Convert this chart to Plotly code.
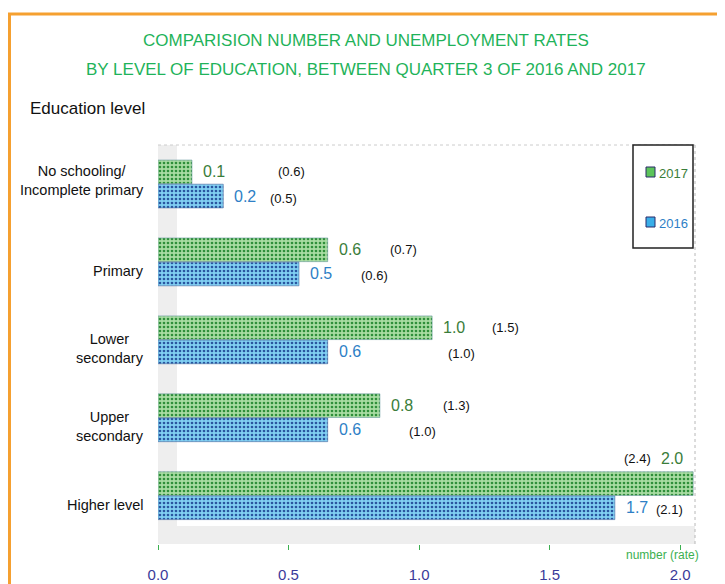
import plotly.graph_objects as go

# ---- data ----
categories = ["No schooling/<br>Incomplete primary", "Primary", "Lower<br>secondary",
              "Upper<br>secondary", "Higher level"]
num_2017 = [0.13, 0.65, 1.05, 0.85, 2.05]
num_2016 = [0.25, 0.54, 0.65, 0.65, 1.75]
num_label_2017 = ["0.1", "0.6", "1.0", "0.8", "2.0"]
num_label_2016 = ["0.2", "0.5", "0.6", "0.6", "1.7"]
rate_label_2017 = ["(0.6)", "(0.7)", "(1.5)", "(1.3)", "(2.4)"]
rate_label_2016 = ["(0.5)", "(0.6)", "(1.0)", "(1.0)", "(2.1)"]
series_names = ["2017", "2016"]
xticks = [0.0, 0.5, 1.0, 1.5, 2.0]

# ---- layout constants (page pixels) ----
W, H = 725, 584
PAGE = 8                      # default body margin of the html page
L, R, T, B = 158, 695, 145, 544
xmax = 2.057
ymin, ymax = -0.5, 4.62
FONT = "Liberation Sans, Arial, sans-serif"
GREEN_T = "#3a7d3a"
BLUE_T = "#2e7fc6"
GREEN_SW = "#5cc45a"
BLUE_SW = "#3aaee8"

def px(x):
    return (x - L) / (R - L)

def py(y):
    return (B - y) / (B - T)

idx = list(range(len(categories)))
fig = go.Figure()
fig.add_trace(go.Bar(
    y=idx, x=num_2017, orientation="h", name=series_names[0],
    marker=dict(color="#93d48f", line=dict(color="#6a9aa0", width=0.6),
                pattern=dict(shape=".", fgcolor="#2f8f3a", bgcolor="#a8dca2", size=4, solidity=0.35)),
    hoverinfo="skip"))
fig.add_trace(go.Bar(
    y=idx, x=num_2016, orientation="h", name=series_names[1],
    marker=dict(color="#6ec6f0", line=dict(color="#4a6aa0", width=0.6),
                pattern=dict(shape=".", fgcolor="#2a56a0", bgcolor="#80cff2", size=4, solidity=0.35)),
    hoverinfo="skip"))

off = 0.155
rate_x_2017 = [0.513, 0.939, 1.333, 1.142, 1.835]
rate_x_2016 = [0.479, 0.828, 1.161, 1.015, 1.958]
above_x_2017 = 1.969          # label placed above the longest bar
anns = []
for i in idx:
    above = num_2017[i] > 1.95
    y17 = i - off
    ys17 = 25 if above else 0
    if above:
        anns.append(dict(x=above_x_2017, y=y17, xref="x", yref="y", text=num_label_2017[i],
                         xanchor="center", yanchor="middle", yshift=ys17, showarrow=False,
                         font=dict(size=16, color=GREEN_T, family=FONT)))
    else:
        anns.append(dict(x=num_2017[i], y=y17, xref="x", yref="y", text=num_label_2017[i],
                         xanchor="left", yanchor="middle", xshift=9, showarrow=False,
                         font=dict(size=16, color=GREEN_T, family=FONT)))
    anns.append(dict(x=rate_x_2017[i], y=y17, xref="x", yref="y", text=rate_label_2017[i],
                     xanchor="center", yanchor="middle", yshift=ys17, showarrow=False,
                     font=dict(size=13, color="#111111", family=FONT)))
    y16 = i + off
    anns.append(dict(x=num_2016[i], y=y16, xref="x", yref="y", text=num_label_2016[i],
                     xanchor="left", yanchor="middle", xshift=9, showarrow=False,
                     font=dict(size=16, color=BLUE_T, family=FONT)))
    anns.append(dict(x=rate_x_2016[i], y=y16, xref="x", yref="y", text=rate_label_2016[i],
                     xanchor="center", yanchor="middle", yshift=-2, showarrow=False,
                     font=dict(size=13, color="#111111", family=FONT)))

# category labels
cat_shift = [3, -9, -9, -9, -9]
for i, c in enumerate(categories):
    anns.append(dict(x=px(146), y=i, xref="paper", yref="y", text=c, xanchor="right",
                     yanchor="middle", align="center", yshift=cat_shift[i], showarrow=False,
                     font=dict(size=14.5, color="#111111", family=FONT)))

# titles
anns.append(dict(x=px(366), y=py(40), xref="paper", yref="paper", xanchor="center", yanchor="middle",
                 text="COMPARISION NUMBER AND UNEMPLOYMENT RATES", showarrow=False,
                 font=dict(size=17, color="#1fb35a", family=FONT)))
anns.append(dict(x=px(366), y=py(70), xref="paper", yref="paper", xanchor="center", yanchor="middle",
                 text="BY LEVEL OF EDUCATION, BETWEEN QUARTER 3 OF 2016 AND 2017", showarrow=False,
                 font=dict(size=17, color="#1fb35a", family=FONT)))
anns.append(dict(x=px(28), y=py(108), xref="paper", yref="paper", xanchor="left", yanchor="middle",
                 text="Education level", showarrow=False,
                 font=dict(size=17, color="#111111", family=FONT)))
anns.append(dict(x=px(662), y=py(555), xref="paper", yref="paper", xanchor="center", yanchor="middle",
                 text="number (rate)", showarrow=False,
                 font=dict(size=12, color="#3cb050", family=FONT)))

# legend (drawn inside a framed box)
leg_y = [172, 222]
leg_sw = [GREEN_SW, BLUE_SW]
leg_txt = [GREEN_T, BLUE_T]
shapes = [
    # orange frame
    dict(type="line", xref="paper", yref="paper", x0=px(9.5), x1=px(9.5), y0=py(13), y1=py(600),
         line=dict(color="#f5a030", width=3)),
    dict(type="line", xref="paper", yref="paper", x0=px(8), x1=px(740), y0=py(14), y1=py(14),
         line=dict(color="#f5a030", width=3)),
    # wall and floor
    dict(type="rect", xref="paper", yref="paper", x0=0, x1=px(177), y0=py(T), y1=0,
         fillcolor="#eeeeee", line=dict(width=0), layer="below"),
    dict(type="rect", xref="paper", yref="paper", x0=0, x1=1, y0=py(526), y1=0,
         fillcolor="#eeeeee", line=dict(width=0), layer="below"),
    dict(type="line", xref="paper", yref="paper", x0=0, x1=1, y0=1, y1=1,
         line=dict(color="#cccccc", width=1, dash="dot")),
    dict(type="line", xref="paper", yref="paper", x0=1, x1=1, y0=0, y1=1,
         line=dict(color="#b8b8b8", width=1, dash="dot")),
    # legend box
    dict(type="rect", xref="paper", yref="paper", x0=px(633), x1=px(693), y0=py(248), y1=py(145),
         line=dict(color="#222222", width=1.5), fillcolor="white"),
]
for name, yy, sw, tc in zip(series_names, leg_y, leg_sw, leg_txt):
    shapes.append(dict(type="rect", xref="paper", yref="paper", x0=px(646), x1=px(655),
                       y0=py(yy + 5), y1=py(yy - 5), fillcolor=sw,
                       line=dict(color="#2a2a6a", width=1)))
    anns.append(dict(x=px(657), y=py(yy + 1), xref="paper", yref="paper", xanchor="left",
                     yanchor="middle", text=name, showarrow=False,
                     font=dict(size=13, color=tc, family=FONT)))

fig.update_layout(
    template="none",
    width=W - PAGE, height=H - PAGE,
    margin=dict(l=L - PAGE, r=W - R, t=T - PAGE, b=H - B, autoexpand=False),
    paper_bgcolor="white", plot_bgcolor="white",
    barmode="group", bargap=0.38, bargroupgap=0.02,
    showlegend=False,
    xaxis=dict(range=[0, xmax], tickvals=xticks, ticktext=[f"{v:.1f}" for v in xticks],
               showgrid=False, zeroline=False, showline=False, automargin=False,
               ticks="outside", ticklen=5, tickcolor="#3cb050", tickwidth=1,
               ticklabelstandoff=12,
               tickfont=dict(size=15, color="#3a3a9a", family=FONT)),
    yaxis=dict(range=[ymax, ymin], showticklabels=False, showgrid=False, zeroline=False,
               showline=False, automargin=False, ticks=""),
    annotations=anns, shapes=shapes,
)

fig.write_html("out.html")
